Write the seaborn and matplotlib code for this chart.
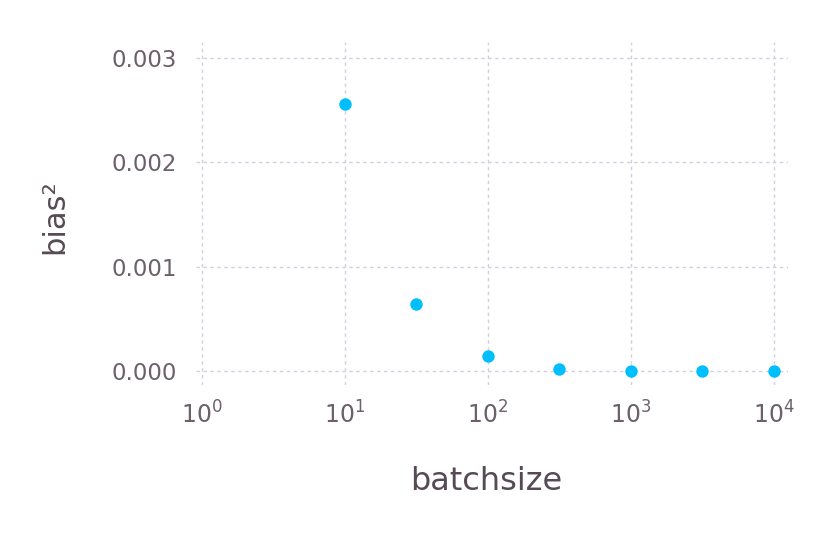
import matplotlib
matplotlib.use("Agg")
import matplotlib.pyplot as plt
import seaborn as sns
import pandas as pd
from matplotlib.ticker import FixedLocator, LogFormatterSciNotation

batchsize = [10, 31.6, 100, 316, 1000, 3162, 10000]
bias2 = [0.002558, 0.000644, 0.00014, 0.00002, 0.000003, 0.000002, 0.000002]
xticks = [1, 10, 100, 1000, 10000]
yticks = [0.0, 0.001, 0.002, 0.003]
ytick_labels = ["0.000", "0.001", "0.002", "0.003"]

sns.set_style("white")
plt.rcParams['font.family'] = ['DejaVu Sans']

df = pd.DataFrame({"batchsize": batchsize, "bias2": bias2})

fig = plt.figure(figsize=(8.32, 5.54), dpi=100)
ax = fig.add_axes([196/832, 1-385/554, (788-196)/832, (385-42)/554])

sns.scatterplot(data=df, x="batchsize", y="bias2", ax=ax, color="#00BFFF",
                s=80, linewidth=0, zorder=3)
ax.set_xscale("log")
ax.set_xlim(10**-0.042, 10**4.098)
ax.set_ylim(-0.000134, 0.00315)

ax.xaxis.set_major_locator(FixedLocator(xticks))
ax.xaxis.set_major_formatter(LogFormatterSciNotation())
ax.xaxis.set_minor_locator(FixedLocator([]))
ax.set_yticks(yticks)
ax.set_yticklabels(ytick_labels)

grid_kw = dict(color="#D0D0E0", linewidth=1.0, linestyle=(0, (2.5, 2.5)))
ax.grid(True, **grid_kw)
ax.set_axisbelow(True)
for sp in ax.spines.values():
    sp.set_visible(False)

ax.tick_params(axis="y", length=0, labelsize=16.5, labelcolor="#6C606B", pad=14)
ax.tick_params(axis="x", length=0, labelsize=17, labelcolor="#6C606B", pad=12)

ax.set_xlabel("batchsize", fontsize=23, color="#564A55", va="center")
ax.set_ylabel("bias²", fontsize=22, color="#564A55", va="center")
ax.xaxis.set_label_coords(0.49, (385-481)/343)
ax.yaxis.set_label_coords((55-196)/592, 0.49)

fig.savefig("out.png", dpi=100)
